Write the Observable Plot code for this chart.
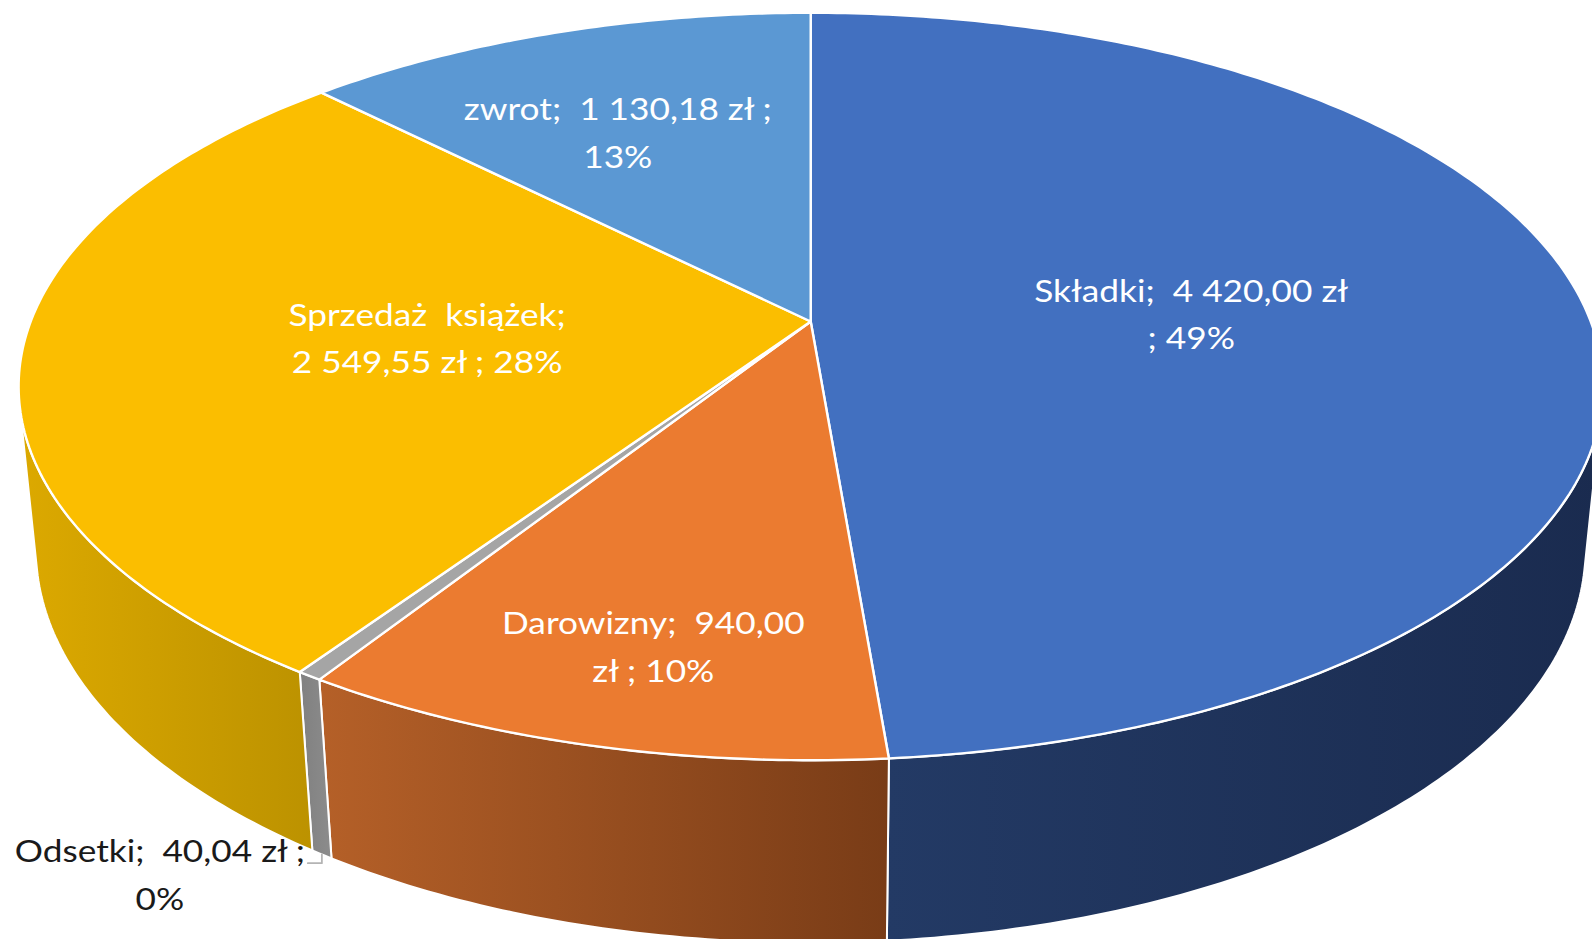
<!DOCTYPE html>
<html lang="pl">
<head>
<meta charset="utf-8">
<script src="https://cdn.jsdelivr.net/npm/d3@7"></script>
<script src="https://cdn.jsdelivr.net/npm/@observablehq/plot@0.6"></script>
<style>
html,body{margin:0;padding:0;background:#fff;overflow:hidden}
svg text{white-space:pre}
</style>
</head>
<body>
<div id="chart"></div>
<script>
// Data
const categories = ["Składki", "Darowizny", "Odsetki", "Sprzedaż książek", "zwrot"];
const values = [4420.00, 940.00, 40.04, 2549.55, 1130.18];
const labels = [
  "Składki;  4 420,00 zł\n; 49%",
  "Darowizny;  940,00\nzł ; 10%",
  "Odsetki;  40,04 zł ;\n0%",
  "Sprzedaż  książek;\n2 549,55 zł ; 28%",
  "zwrot;  1 130,18 zł ;\n13%"
];
const topColors = ["#4270C0", "#EB7B30", "#A5A5A5", "#FBBE00", "#5B98D3"];
const wallStops = [
  ["#233A65", "#1A2B4F"],
  ["#B56028", "#793C17"],
  ["#808080", "#8C8C8C"],
  ["#DCA900", "#BC9200"],
  ["#3A6A98", "#2F5880"]
];
const labelRadius = [0.49, 0.795, null, 0.49, 0.634];
const labelTurn = [0, -1.2, 0, 0, -3];

// Perspective of the 3D pie (camera tilt and wall depth)
const tilt = 0.174, depthShrink = 0.0217, depthDrop = 0.453;
const project = (deg, r, h) => {
  const t = deg * Math.PI / 180;
  const u = r * Math.sin(t), v = -r * Math.cos(t);
  const w = 1 - tilt * v + depthShrink * h;
  return {x: u / w, y: (v + depthDrop * h) / w};
};

const total = d3.sum(values);
let run = 0;
const slices = values.map((value, i) => {
  const a0 = run / total * 360;
  run += value;
  return {i, a0, a1: run / total * 360, mid: (a0 + (run / total * 360)) / 2};
});
const arc = (a0, a1, r, h) => {
  const n = Math.max(2, Math.ceil((a1 - a0) / 0.75));
  return d3.range(n + 1).map(j => project(a0 + (a1 - a0) * j / n, r, h));
};
// The part of the outer wall that faces the camera at a given angle
const facesCamera = deg => {
  const p = project(deg, 1, 0), q = project(deg + 0.01, 1, 0), b = project(deg, 1, 1);
  return (b.x - p.x) * (q.y - p.y) - (b.y - p.y) * (q.x - p.x) > 0;
};
const visibleRange = s => {
  const seen = d3.range(s.a0, s.a1, 0.05).concat(s.a1).filter(facesCamera);
  return seen.length ? [seen[0], seen[seen.length - 1]] : null;
};
const wallPath = s => {
  const [a0, a1] = visibleRange(s);
  const front = arc(a0, a1, 1, 0), back = arc(a0, a1, 1, 1).reverse();
  return [...front, ...back, front[0]];
};
const topPath = s => {
  const c = project(0, 0, 0);
  return [c, ...arc(s.a0, s.a1, 1, 0), c];
};

const gradients = () => {
  const defs = d3.create("svg:defs");
  wallStops.forEach((stops, i) => {
    const g = defs.append("linearGradient").attr("id", "wall" + i);
    g.append("stop").attr("offset", "0%").attr("stop-color", stops[0]);
    g.append("stop").attr("offset", "100%").attr("stop-color", stops[1]);
  });
  return defs.node();
};

const inner = slices.filter(s => labelRadius[s.i] != null).map(s => ({
  ...project(s.mid + labelTurn[s.i], labelRadius[s.i], 0),
  text: labels[s.i]
}));
const outer = slices.filter(s => labelRadius[s.i] == null);
const anchors = outer.map(s => ({...project(s.mid, 1, 1), text: labels[s.i]}));
const leader = anchors.flatMap(a => [
  {x: a.x, y: a.y},
  {x: a.x, y: a.y + 0.024},
  {x: a.x - 0.018, y: a.y + 0.024}
]);

const chart = Plot.plot({
  width: 1592,
  height: 939,
  margin: 0,
  style: {background: "#fff"},
  x: {domain: [-1, 1], range: [30.2, 1590.2], axis: null},
  y: {domain: [-1, 1], range: [-41.4, 683.4], axis: null},
  marks: [
    gradients,
    ...slices.filter(visibleRange).map(s => Plot.line(wallPath(s), {
      x: "x", y: "y", fill: `url(#wall${s.i})`, stroke: "white", strokeWidth: 2
    })),
    ...slices.map(s => Plot.line(topPath(s), {
      x: "x", y: "y", fill: topColors[s.i], stroke: "white", strokeWidth: 2.4
    })),
    Plot.line(leader, {x: "x", y: "y", stroke: "#B4B4B4", strokeWidth: 1.8}),
    Plot.text(inner, {
      x: "x", y: "y", text: "text", fill: "white", dy: -4,
      fontFamily: "Lato", fontSize: 31, lineHeight: 1.539, lineAnchor: "middle"
    }),
    Plot.text(anchors, {
      x: "x", y: "y", text: "text", fill: "#1A1A1A", dx: -162, dy: 16,
      fontFamily: "Lato", fontSize: 31, lineHeight: 1.539, lineAnchor: "middle"
    })
  ]
});
// The reference's lettering is wide: stretch each label sideways about its own anchor
chart.querySelectorAll("text").forEach(t => {
  const tr = t.getAttribute("transform") || "";
  t.setAttribute("transform", tr + " scale(1.137,1)");
});
document.getElementById("chart").appendChild(chart);
</script>
</body>
</html>
